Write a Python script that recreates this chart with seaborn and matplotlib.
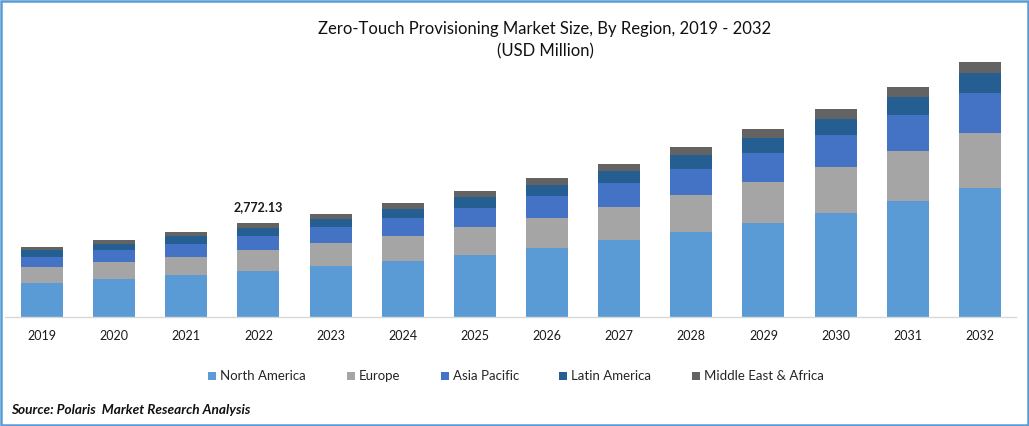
import matplotlib
matplotlib.use("Agg")
import matplotlib.pyplot as plt
from matplotlib.patches import Rectangle
import numpy as np
import pandas as pd
import seaborn as sns

years = ["2019", "2020", "2021", "2022", "2023", "2024", "2025",
         "2026", "2027", "2028", "2029", "2030", "2031", "2032"]

# USD million
north_america = [1003, 1121, 1239, 1357, 1505, 1652, 1829, 2036, 2272, 2508, 2773, 3068, 3422, 3806]
europe = [472, 502, 531, 620, 679, 738, 826, 885, 974, 1092, 1210, 1357, 1475, 1623]
asia_pacific = [295, 354, 384, 413, 472, 531, 561, 649, 708, 767, 856, 944, 1062, 1180]
latin_america = [207, 177, 236, 236, 236, 266, 325, 325, 354, 413, 443, 472, 531, 590]
middle_east = [89, 118, 118, 146, 147, 177, 177, 207, 207, 236, 266, 295, 295, 325]

top_labels = ["", "", "", "2,772.13", "", "", "", "", "", "", "", "", "", ""]

series = {
    "North America": north_america,
    "Europe": europe,
    "Asia Pacific": asia_pacific,
    "Latin America": latin_america,
    "Middle East & Africa": middle_east,
}
colors = ["#5B9BD5", "#A5A5A5", "#4472C4", "#255E91", "#636363"]

sns.set_theme(style="white")
plt.rcParams["font.family"] = ["Lato", "DejaVu Sans"]

W, H = 1029, 426
fig = plt.figure(figsize=(W / 100, H / 100), dpi=100)
# axes in pixels: baseline at y=317, axis line from x=5 to x=1016
ax = fig.add_axes([5 / W, (H - 317) / H, 1011 / W, 277 / H])

df = pd.DataFrame({"year": years, **series})
bottom = np.zeros(len(years))
for (name, values), color in zip(series.items(), colors):
    sns.barplot(data=df, x="year", y=name, ax=ax, color=color, saturation=1,
                width=0.582, bottom=bottom, label=name, errorbar=None, linewidth=0)
    bottom += np.array(values)

ax.bar_label(ax.containers[-1], labels=top_labels, padding=7, fontsize=9,
             fontweight="bold", color="#1a1a1a")

ax.set_xlim(-0.513, 13.5)
ax.set_ylim(0, 8171)
ax.set_xlabel("")
ax.set_ylabel("")
ax.set_yticks([])
ax.tick_params(axis="x", length=0, pad=9.5, labelsize=9, labelcolor="#1a1a1a")
sns.despine(ax=ax, left=True)
ax.spines["bottom"].set_color("#D9D9D9")
ax.spines["bottom"].set_linewidth(1.0)
ax.get_legend().remove()

fs = 9.5
fs_px = fs * 100 / 72
handles, labels = ax.get_legend_handles_labels()
leg = fig.legend(handles, labels, loc="center", bbox_to_anchor=(516 / W, (H - 376.5) / H),
                 ncols=5, frameon=False, fontsize=fs, handlelength=8 / fs_px,
                 handleheight=8 / fs_px, handletextpad=4 / fs_px,
                 columnspacing=40.5 / fs_px, borderpad=0, borderaxespad=0)
for t in leg.get_texts():
    t.set_color("#262626")

fig.text(545 / W, (H - 29) / H, "Zero-Touch Provisioning Market Size, By Region, 2019 - 2032",
         ha="center", va="center", fontsize=12.0, color="#111111")
fig.text(545 / W, (H - 51) / H, "(USD Million)", ha="center", va="center",
         fontsize=12.0, color="#111111")
fig.text(11 / W, (H - 410) / H, "Source: Polaris  Market Research Analysis", ha="left",
         va="center", fontsize=9.8, fontweight="bold", fontstyle="italic", color="#111111")

# blue frame round the picture
fig.add_artist(Rectangle((1.25 / W, 1.25 / H), (W - 2.5) / W, (H - 2.5) / H,
                         transform=fig.transFigure, fill=False,
                         edgecolor="#5B9BD5", linewidth=1.8))

fig.savefig("out.png", dpi=100)
